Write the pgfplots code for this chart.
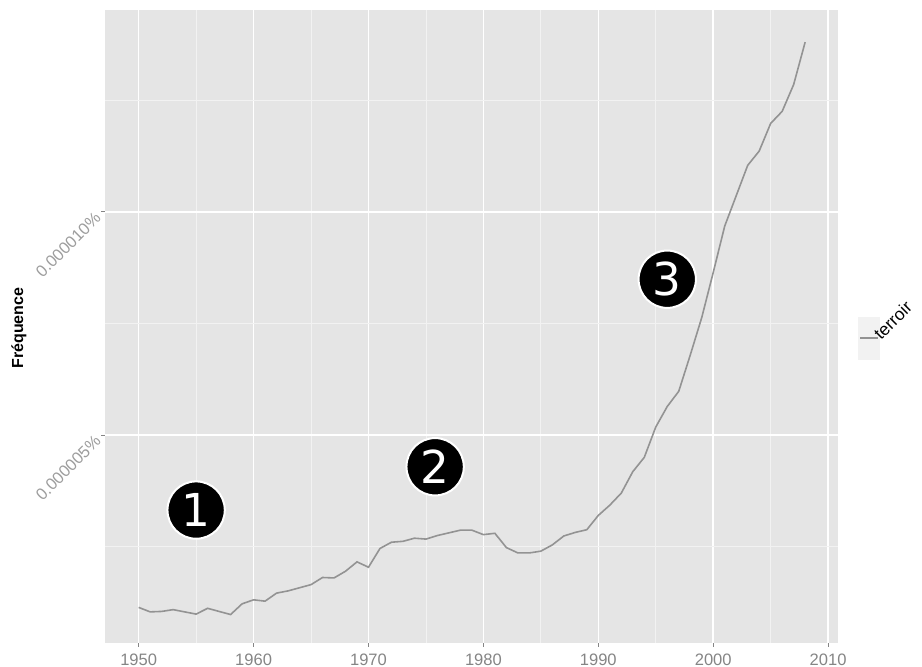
\documentclass[border=0pt]{standalone}
\usepackage{pgfplots}
\pgfplotsset{compat=1.18}
\usepackage{fontspec}
\setmainfont{Liberation Sans}
\newfontfamily\circfont{DejaVu Sans}

\definecolor{panel}{HTML}{E5E5E5}
\definecolor{minorgrid}{HTML}{F2F2F2}
\definecolor{ticktext}{HTML}{858585}
\definecolor{series}{HTML}{939393}

% frequency of "terroir", in units of 0.000001 %
\pgfplotstableread{
year freq
1950 1.14
1951 1.04
1952 1.05
1953 1.09
1954 1.04
1955 0.99
1956 1.12
1957 1.05
1958 0.98
1959 1.22
1960 1.31
1961 1.28
1962 1.46
1963 1.51
1964 1.58
1965 1.65
1966 1.81
1967 1.80
1968 1.95
1969 2.16
1970 2.04
1971 2.46
1972 2.60
1973 2.62
1974 2.69
1975 2.67
1976 2.75
1977 2.81
1978 2.87
1979 2.87
1980 2.77
1981 2.80
1982 2.48
1983 2.36
1984 2.36
1985 2.40
1986 2.54
1987 2.74
1988 2.82
1989 2.88
1990 3.20
1991 3.43
1992 3.70
1993 4.18
1994 4.50
1995 5.18
1996 5.64
1997 5.98
1998 6.79
1999 7.63
2000 8.64
2001 9.68
2002 10.36
2003 11.04
2004 11.36
2005 11.98
2006 12.25
2007 12.85
2008 13.80
}\terroir

\tikzset{badge/.style={circle, fill=black, draw=white, line width=1.5pt,
    minimum size=43pt, inner sep=0pt, text=white,
    font=\circfont\fontsize{34}{34}\selectfont}}

\begin{document}
\begin{tikzpicture}[x=0.75pt,y=0.75pt]
\useasboundingbox (0,0) rectangle (922,667);
\begin{axis}[
    at={(78.75pt,18pt)}, anchor=south west,
    scale only axis,
    width=549.75pt, height=474.75pt,
    xmin=1947.07, xmax=2010.86,
    ymin=0.343, ymax=14.52,
    axis background/.style={fill=panel},
    axis line style={draw=none},
    xtick={1950,1960,...,2010},
    xticklabels={1950,1960,1970,1980,1990,2000,2010},
    minor xtick={1955,1965,...,2005},
    ytick={5,10},
    yticklabels={0.000005\%,0.000010\%},
    minor ytick={2.5,7.5,12.5},
    grid=both,
    major grid style={white, line width=1.1pt},
    minor grid style={minorgrid, line width=0.55pt},
    xtick pos=bottom, ytick pos=left,
    tick align=outside,
    major tick length=3pt, minor tick length=0pt,
    tick style={ticktext, line width=0.6pt},
    tick label style={font=\fontsize{12.4}{14}\selectfont, text=ticktext},
    xticklabel style={yshift=-1.5pt},
    yticklabel style={rotate=45, anchor=east, text=ticktext!80!white},
    every axis y label/.style={at={(axis description cs:-0.1173,0.4976)},
        rotate=90, anchor=center, font=\fontsize{12}{14}\selectfont\bfseries},
    ylabel={Fréquence},
]
\addplot[series, line width=1.2pt] table[x=year, y=freq] {\terroir};

\node[badge] at (axis cs:1955,3.32) {1};
\node[badge] at (axis cs:1975.8,4.29) {2};
\node[badge] at (axis cs:1996,8.49) {3};
\end{axis}

% legend
\fill[minorgrid] (858,307) rectangle (880,350);
\draw[series, line width=1.2pt] (860,329) -- (878,329);
\node[rotate=45, anchor=base west, inner sep=0pt,
      font=\fontsize{13}{15}\selectfont] at (881,326) {terroir};
\end{tikzpicture}
\end{document}
